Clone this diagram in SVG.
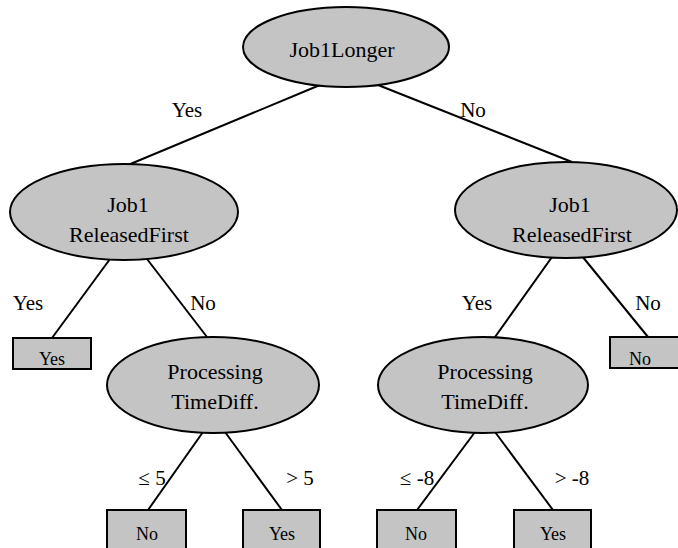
<svg xmlns="http://www.w3.org/2000/svg" width="678" height="548" viewBox="0 0 678 548">
<defs>
<ellipse id="shape-ellipse" cx="0" cy="0" rx="1" ry="1"/>
</defs>
<rect width="678" height="548" fill="#fff"/>
<g id="connectors" stroke="#000" stroke-width="2" fill="none">
<line x1="320" y1="85" x2="128" y2="165"/>
<line x1="378" y1="85" x2="572" y2="162"/>
<line x1="110" y1="259" x2="52" y2="338"/>
<line x1="147" y1="259" x2="207" y2="337"/>
<line x1="552" y1="257" x2="495" y2="337"/>
<line x1="582" y1="256" x2="648" y2="337"/>
<line x1="203" y1="432" x2="148" y2="510"/>
<line x1="225" y1="432" x2="282" y2="510"/>
<line x1="475" y1="432" x2="417" y2="510"/>
<line x1="495" y1="432" x2="553" y2="510"/>
</g>
<g id="edge-labels" font-family="Liberation Serif" font-size="21" fill="#000" text-anchor="middle">
<text x="187" y="117">Yes</text>
<text x="473" y="117">No</text>
<text x="28" y="310">Yes</text>
<text x="203" y="310">No</text>
<text x="477" y="310">Yes</text>
<text x="648" y="310">No</text>
<text x="152" y="485">≤ 5</text>
<text x="300" y="485">&gt; 5</text>
<text x="417" y="485">≤ -8</text>
<text x="572" y="485">&gt; -8</text>
</g>
<g id="root">
<ellipse cx="346" cy="47" rx="103" ry="40" fill="#c4c4c4" stroke="#000" stroke-width="2"/>
<text font-family="Liberation Serif" font-size="22" text-anchor="middle" x="342" y="57">Job1Longer</text>
</g>
<g id="left-released">
<ellipse cx="124" cy="212" rx="114" ry="48" fill="#c4c4c4" stroke="#000" stroke-width="2"/>
<text font-family="Liberation Serif" font-size="22" text-anchor="middle" x="128" y="212">Job1</text>
<text font-family="Liberation Serif" font-size="22" text-anchor="middle" x="129" y="242">ReleasedFirst</text>
</g>
<g id="right-released">
<ellipse cx="566" cy="210" rx="111" ry="48" fill="#c4c4c4" stroke="#000" stroke-width="2"/>
<text font-family="Liberation Serif" font-size="22" text-anchor="middle" x="570" y="212">Job1</text>
<text font-family="Liberation Serif" font-size="22" text-anchor="middle" x="572" y="242">ReleasedFirst</text>
</g>
<g id="left-yes">
<rect x="13" y="338" width="78" height="31" fill="#c4c4c4" stroke="#000" stroke-width="2"/>
<text font-family="Liberation Serif" font-size="18" text-anchor="middle" x="52" y="365">Yes</text>
</g>
<g id="left-processing">
<ellipse cx="213" cy="385" rx="106" ry="48" fill="#c4c4c4" stroke="#000" stroke-width="2"/>
<text font-family="Liberation Serif" font-size="22" text-anchor="middle" x="215" y="379">Processing</text>
<text font-family="Liberation Serif" font-size="22" text-anchor="middle" x="215" y="409">TimeDiff.</text>
</g>
<g id="right-processing">
<ellipse cx="483" cy="385" rx="105" ry="48" fill="#c4c4c4" stroke="#000" stroke-width="2"/>
<text font-family="Liberation Serif" font-size="22" text-anchor="middle" x="485" y="379">Processing</text>
<text font-family="Liberation Serif" font-size="22" text-anchor="middle" x="485" y="409">TimeDiff.</text>
</g>
<g id="right-no">
<rect x="610" y="337" width="72" height="31" fill="#c4c4c4" stroke="#000" stroke-width="2"/>
<text font-family="Liberation Serif" font-size="18" text-anchor="middle" x="640" y="365">No</text>
</g>
<g id="ll-no">
<rect x="107" y="510" width="79" height="42" fill="#c4c4c4" stroke="#000" stroke-width="2"/>
<text font-family="Liberation Serif" font-size="18" text-anchor="middle" x="147" y="540">No</text>
</g>
<g id="lr-yes">
<rect x="243" y="510" width="77" height="42" fill="#c4c4c4" stroke="#000" stroke-width="2"/>
<text font-family="Liberation Serif" font-size="18" text-anchor="middle" x="282" y="540">Yes</text>
</g>
<g id="rl-no">
<rect x="377" y="510" width="79" height="42" fill="#c4c4c4" stroke="#000" stroke-width="2"/>
<text font-family="Liberation Serif" font-size="18" text-anchor="middle" x="416" y="540">No</text>
</g>
<g id="rr-yes">
<rect x="514" y="510" width="77" height="42" fill="#c4c4c4" stroke="#000" stroke-width="2"/>
<text font-family="Liberation Serif" font-size="18" text-anchor="middle" x="553" y="540">Yes</text>
</g>
</svg>
